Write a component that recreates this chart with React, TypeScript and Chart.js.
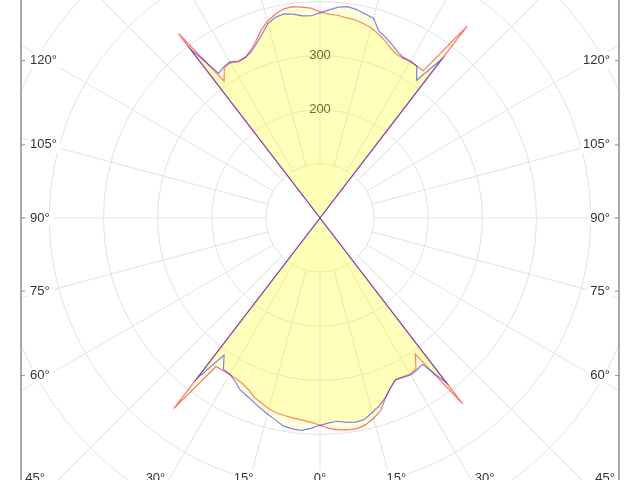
import { useEffect, useRef } from "react"
import { Chart, registerables } from "chart.js"
import type { Plugin } from "chart.js"

Chart.register(...registerables)

const FONT = "'Liberation Sans', Arial, sans-serif"

// radar axis: one category every 2.5 degrees, clockwise from the top
const ANGLE_STEP = 2.5
const AXIS_ANGLES = Array.from({ length: 360 / ANGLE_STEP }, (_, i) => i * ANGLE_STEP)

// measured angles inside each beam (degrees off the beam axis, right side positive)
const BEAM_ANGLES = [
  -37.5, -35, -32.5, -30, -27.5, -25, -22.5, -20, -17.5, -15, -12.5, -10, -7.5, -5, -2.5,
  0, 2.5, 5, 7.5, 10, 12.5, 15, 17.5, 20, 22.5, 25, 27.5, 30, 32.5, 35, 37.5,
]

// upward beam (axis at 180°)
const UP_RED = [
  429, 309, 329, 331, 325, 327, 335, 347, 363, 376, 385, 392, 394, 391, 388,
  381, 377, 376, 373, 372, 368, 364, 357, 349, 340, 334, 333, 333, 333, 332, 446,
]
const UP_BLUE = [
  394, 326, 331, 333, 327, 327, 332, 343, 356, 372, 380, 383, 380, 375, 374,
  379, 385, 391, 394, 391, 386, 382, 362, 355, 347, 339, 334, 335, 333, 311, 371,
]

// downward beam (axis at 0°)
const DOWN_RED = [
  444, 335, 334, 334, 335, 338, 344, 353, 359, 365, 369, 371, 373, 375, 378,
  383, 389, 393, 395, 395, 391, 383, 373, 354, 340, 329, 331, 333, 330, 307, 433,
]
const DOWN_BLUE = [
  374, 309, 332, 333, 340, 350, 355, 361, 368, 375, 382, 390, 393, 394, 389,
  383, 379, 377, 381, 383, 381, 372, 364, 353, 340, 330, 332, 335, 333, 330, 384,
]

const RING_STEP = 100
const RING_MAX = 800
const LAST_RING = 600
const LABELLED_RINGS = [200, 300]
const ANGLE_LABELS = [0, 15, 30, 45, 60, 75, 90, 105, 120, 135, 150, 165, 180]

// where the pole of the diagram sits on the page, and the frame around it
const CENTER_X = 320
const CENTER_Y = 218
const FRAME_X = 299
const FRAME_BOTTOM = 282
const LABEL_SIDE = 273
const LABEL_BOTTOM = 285
const BOTTOM_BASELINE = 264

const GRID = "#e2e2e2"
const BEAM_FILL = "rgba(255, 255, 0, 0.15)"

function buildSeries(up: number[], down: number[]) {
  const values = AXIS_ANGLES.map(() => 0)
  BEAM_ANGLES.forEach((a, k) => {
    values[(a / ANGLE_STEP + AXIS_ANGLES.length) % AXIS_ANGLES.length] = up[k]
    values[(180 - a) / ANGLE_STEP] = down[k]
  })
  return values
}

const photometricFrame: Plugin<"radar"> = {
  id: "photometricFrame",
  beforeDatasetsDraw(chart) {
    const r: any = chart.scales.r
    const { ctx } = chart
    ctx.save()
    ctx.fillStyle = "#ffffff"
    // no spokes inside the first ring
    ctx.beginPath()
    ctx.arc(r.xCenter, r.yCenter, r.getDistanceFromCenterForValue(RING_STEP) - 1, 0, Math.PI * 2)
    ctx.fill()
    // nothing outside the frame
    ctx.fillRect(0, 0, r.xCenter - FRAME_X, chart.height)
    ctx.fillRect(r.xCenter + FRAME_X, 0, chart.width, chart.height)
    ctx.restore()
  },
  afterDraw(chart) {
    const r: any = chart.scales.r
    const { ctx } = chart
    const cx = r.xCenter
    const cy = r.yCenter
    ctx.save()

    ctx.strokeStyle = "#8f8f8f"
    ctx.lineWidth = 1.5
    ctx.beginPath()
    ctx.moveTo(cx - FRAME_X, 0)
    ctx.lineTo(cx - FRAME_X, chart.height)
    ctx.moveTo(cx + FRAME_X, 0)
    ctx.lineTo(cx + FRAME_X, chart.height)
    ctx.stroke()

    ctx.font = `13px ${FONT}`
    ANGLE_LABELS.forEach((deg) => {
      ;[-1, 1].forEach((side) => {
        if ((deg === 0 || deg === 180) && side < 0) return
        const rad = (deg * Math.PI) / 180
        const dx = side * Math.sin(rad)
        const dy = Math.cos(rad)
        const text = `${deg}°`
        const w = ctx.measureText(text).width
        const sideHit = Math.abs(dx) < 1e-6 ? Infinity : FRAME_X / Math.abs(dx)
        if (dy > 1e-6 && FRAME_BOTTOM / dy < sideHit) {
          const x = cx + dx * (LABEL_BOTTOM / dy)
          ctx.fillStyle = "#ffffff"
          ctx.fillRect(x - w / 2 - 2, cy + BOTTOM_BASELINE - 12, w + 4, 16)
          ctx.fillStyle = "#333333"
          ctx.textAlign = "center"
          ctx.textBaseline = "alphabetic"
          ctx.fillText(text, x, cy + BOTTOM_BASELINE)
        } else if (Math.abs(dx) > 1e-6) {
          const y = cy + dy * (LABEL_SIDE / Math.abs(dx))
          const edge = cx + side * FRAME_X
          const x = cx + side * (FRAME_X - 9)
          ctx.fillStyle = "#ffffff"
          ctx.fillRect(side < 0 ? x - 2 : x - w - 2, y - 8, w + 5, 16)
          ctx.strokeStyle = "#8f8f8f"
          ctx.lineWidth = 1
          ctx.beginPath()
          ctx.moveTo(edge, y)
          ctx.lineTo(edge - side * 4, y)
          ctx.stroke()
          ctx.fillStyle = "#333333"
          ctx.textAlign = side < 0 ? "left" : "right"
          ctx.textBaseline = "middle"
          ctx.fillText(text, x, y)
        }
      })
    })
    ctx.restore()
  },
}

export default function App() {
  const canvasRef = useRef<HTMLCanvasElement>(null)

  useEffect(() => {
    const canvas = canvasRef.current
    if (!canvas) return

    const chart = new Chart(canvas, {
      type: "radar",
      data: {
        labels: AXIS_ANGLES,
        datasets: [
          // first dataset is painted last, so the blue curve lies over the red one
          {
            label: "C90-C270",
            data: buildSeries(UP_BLUE, DOWN_BLUE),
            borderColor: "rgba(0, 0, 255, 0.5)",
            backgroundColor: BEAM_FILL,
            borderWidth: 1.2,
            fill: true,
            pointRadius: 0,
          },
          {
            label: "C0-C180",
            data: buildSeries(UP_RED, DOWN_RED),
            borderColor: "rgba(255, 0, 0, 0.55)",
            backgroundColor: BEAM_FILL,
            borderWidth: 1.2,
            fill: true,
            pointRadius: 0,
          },
        ],
      },
      options: {
        responsive: false,
        animation: false,
        elements: { line: { tension: 0 } },
        plugins: {
          legend: { display: false },
          tooltip: { enabled: false },
        },
        scales: {
          r: {
            min: 0,
            max: RING_MAX,
            startAngle: 0,
            ticks: {
              stepSize: RING_STEP,
              showLabelBackdrop: false,
              color: "#333333",
              font: { size: 13, family: FONT },
              callback: (v) => (LABELLED_RINGS.includes(Number(v)) ? String(v) : ""),
            },
            grid: {
              circular: true,
              lineWidth: 1,
              color: (c: any) => (c.tick && c.tick.value <= LAST_RING ? GRID : "rgba(0,0,0,0)"),
            },
            angleLines: {
              display: true,
              lineWidth: 1,
              color: (c: any) => (c.index % 6 === 0 ? GRID : "rgba(0,0,0,0)"),
            },
            pointLabels: { display: false },
          },
        },
      },
      plugins: [photometricFrame],
    })

    const r: any = chart.scales.r
    canvas.style.left = `${CENTER_X - r.xCenter}px`
    canvas.style.top = `${CENTER_Y - r.yCenter}px`

    return () => {
      chart.destroy()
    }
  }, [])

  return (
    <div
      style={{
        position: "fixed",
        left: 0,
        top: 0,
        width: 640,
        height: 480,
        overflow: "hidden",
        background: "#ffffff",
      }}
    >
      <canvas ref={canvasRef} width={884} height={893} style={{ position: "absolute" }} />
    </div>
  )
}
